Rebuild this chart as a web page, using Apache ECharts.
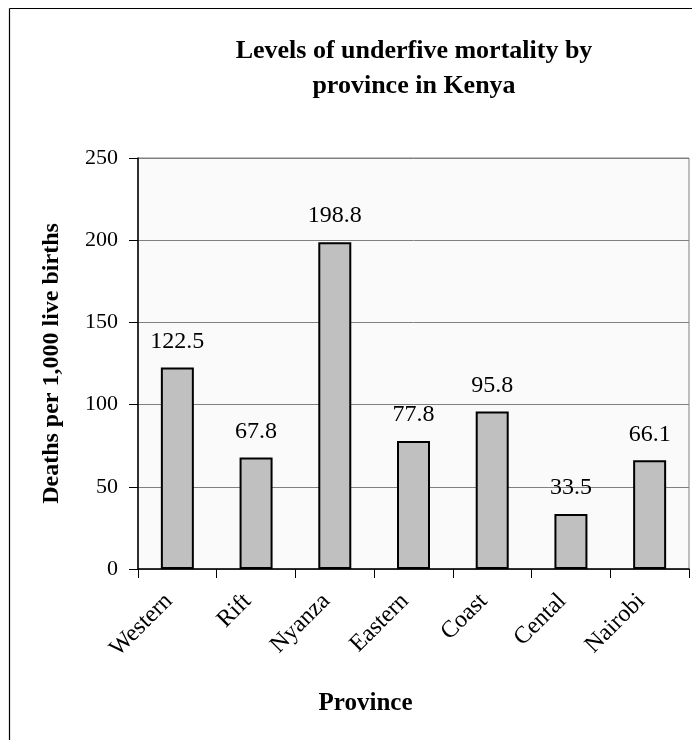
<!DOCTYPE html>
<html>
<head>
<meta charset="utf-8">
<script src="https://cdn.jsdelivr.net/npm/echarts@6/dist/echarts.min.js"></script>
<style>
html,body{margin:0;padding:0;background:#fff;}
#chart{width:692px;height:740px;}
</style>
</head>
<body>
<div id="chart"></div>
<script>
const titleText = 'Levels of underfive mortality by\nprovince in Kenya';
const categories = ['Western', 'Rift', 'Nyanza', 'Eastern', 'Coast', 'Cental', 'Nairobi'];
const mortality = [122.5, 67.8, 198.8, 77.8, 95.8, 33.5, 66.1];
const yAxisTitle = 'Deaths per 1,000 live births';
const xAxisTitle = 'Province';

const FONT = '"Liberation Serif", "Times New Roman", serif';
const chart = echarts.init(document.getElementById('chart'), null, {renderer: 'canvas'});
chart.setOption({
  backgroundColor: '#ffffff',
  animation: false,
  title: {
    text: titleText,
    left: 409,
    top: 29,
    textAlign: 'center',
    textStyle: {fontFamily: FONT, fontWeight: 'bold', fontSize: 26, lineHeight: 35, color: '#000'}
  },
  graphic: [
    {type: 'line', shape: {x1: 9.5, y1: 8.5, x2: 9.5, y2: 740}, style: {stroke: '#000', lineWidth: 1.2}},
    {type: 'line', shape: {x1: 9.5, y1: 8.5, x2: 692, y2: 8.5}, style: {stroke: '#000', lineWidth: 1.2}}
  ],
  grid: {
    left: 138, right: 3, top: 158, bottom: 171,
    show: true, backgroundColor: '#FAFAFA', borderColor: '#808080', borderWidth: 1
  },
  xAxis: {
    type: 'category',
    data: categories,
    name: xAxisTitle,
    nameLocation: 'middle',
    nameGap: 122,
    nameTextStyle: {fontFamily: FONT, fontWeight: 'bold', fontSize: 25, color: '#000', padding: [0, 96, 0, 0]},
    axisLine: {lineStyle: {color: '#000', width: 1.5}},
    axisTick: {show: true, alignWithLabel: false, length: 9, lineStyle: {color: '#000', width: 1}},
    axisLabel: {rotate: 45, fontFamily: FONT, fontSize: 24, color: '#000', margin: 20, interval: 0,
      padding: [0, 12, 0, 0]}
  },
  yAxis: {
    type: 'value',
    min: 0, max: 250, interval: 50,
    name: yAxisTitle,
    nameLocation: 'middle',
    nameRotate: 90,
    nameGap: 74,
    nameTextStyle: {fontFamily: FONT, fontWeight: 'bold', fontSize: 24, color: '#000'},
    axisLine: {show: true, lineStyle: {color: '#000', width: 1.5}},
    axisTick: {show: true, length: 9, lineStyle: {color: '#000', width: 1}},
    axisLabel: {fontFamily: FONT, fontSize: 22, color: '#000', margin: 20},
    splitLine: {show: true, lineStyle: {color: '#808080', width: 1}}
  },
  series: [{
    type: 'bar',
    data: mortality,
    barWidth: 33,
    itemStyle: {color: '#C0C0C0', borderColor: '#000', borderWidth: 2},
    label: {show: true, position: 'top', distance: 14, fontFamily: FONT, fontSize: 24, color: '#000',
      formatter: p => p.value.toFixed(1)}
  }]
});
</script>
</body>
</html>
